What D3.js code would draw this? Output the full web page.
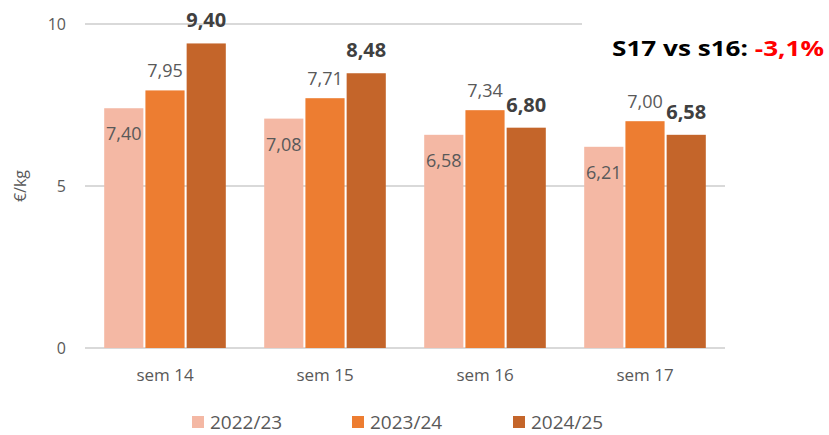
<!DOCTYPE html>
<html>
<head>
<meta charset="utf-8">
<script src="https://cdn.jsdelivr.net/npm/d3@7"></script>
<style>
  body { margin: 0; background: #fff; }
  text { font-family: "Open Sans", "Noto Sans", sans-serif; }
</style>
</head>
<body>
<script>
// data
var weeks = ["sem 14", "sem 15", "sem 16", "sem 17"];
var seasons = ["2022/23", "2023/24", "2024/25"];
var v2223 = [7.40, 7.08, 6.58, 6.21];
var v2324 = [7.95, 7.71, 7.34, 7.00];
var v2425 = [9.40, 8.48, 6.80, 6.58];
var yTicks = [0, 5, 10];
var colors = ["#F4B8A4", "#ED7D31", "#C4652A"];

var series = [v2223, v2324, v2425];

var svg = d3.select("body").append("svg").attr("width", 829).attr("height", 435);

var x = d3.scaleBand().domain(weeks).range([85, 725]);
var xs = d3.scaleBand().domain(seasons)
  .range([x.bandwidth() * 0.12, x.bandwidth() * 0.88]).paddingInner(0.05);
var y = d3.scaleLinear().domain([0, 10]).range([348, 24]);

// gridlines
svg.append("g").selectAll("line").data(yTicks).join("line")
  .attr("x1", 85).attr("x2", 725)
  .attr("y1", d => y(d)).attr("y2", d => y(d))
  .attr("stroke", "#d9d9d9").attr("stroke-width", 2);

svg.append("g").selectAll("text").data(yTicks).join("text")
  .attr("x", 66).attr("y", d => y(d) + 6)
  .attr("text-anchor", "end")
  .attr("font-size", 16).attr("fill", "#595959")
  .text(d => d);

svg.append("text")
  .attr("transform", "translate(26,186) rotate(-90)")
  .attr("text-anchor", "middle")
  .attr("font-size", 16).attr("fill", "#595959")
  .text("€/kg");

// bars
var groups = svg.append("g").selectAll("g").data(seasons).join("g");

groups.each(function(s, si) {
  var g = d3.select(this);
  var vals = series[si];
  g.selectAll("rect").data(vals).join("rect")
    .attr("x", (d, i) => x(weeks[i]) + xs(s))
    .attr("y", d => y(d))
    .attr("width", xs.bandwidth())
    .attr("height", d => y(0) - y(d))
    .attr("fill", colors[si]);

  g.selectAll("text").data(vals).join("text")
    .attr("x", (d, i) => x(weeks[i]) + xs(s) + xs.bandwidth() / 2)
    .attr("y", d => si == 0 ? y(d) + 32 : (si == 1 ? y(d) - 13 : y(d) - 16))
    .attr("text-anchor", "middle")
    .attr("font-size", si == 2 ? 20 : 18)
    .attr("font-weight", si == 2 ? "bold" : "normal")
    .attr("fill", si == 2 ? "#404040" : "#595959")
    .text(d => d.toFixed(2).replace(".", ","));
});

// category labels
svg.append("g").selectAll("text").data(weeks).join("text")
  .attr("x", d => x(d) + x.bandwidth() / 2)
  .attr("y", 381)
  .attr("text-anchor", "middle")
  .attr("font-size", 17).attr("fill", "#595959")
  .text(d => d);

// legend
var legX = [192, 352, 513];
var leg = svg.append("g").selectAll("g").data(seasons).join("g")
  .attr("transform", (d, i) => "translate(" + legX[i] + ",416)");
leg.append("rect").attr("width", 12).attr("height", 12)
  .attr("fill", (d, i) => colors[i]);
leg.append("text").attr("x", 18).attr("y", 13)
  .attr("font-size", 19).attr("fill", "#595959")
  .text(d => d);

// title box
svg.append("rect").attr("x", 582).attr("y", 14).attr("width", 247).attr("height", 56).attr("fill", "#fff");
var t = svg.append("text").attr("x", 612).attr("y", 56)
  .attr("font-size", 22).attr("font-weight", "bold")
  .attr("font-family", "'DejaVu Sans', sans-serif")
  .attr("textLength", 212).attr("lengthAdjust", "spacingAndGlyphs");
t.append("tspan").attr("fill", "#000").text("S17 vs s16: ");
t.append("tspan").attr("fill", "#FF0000").text("-3,1%");
</script>
</body>
</html>
